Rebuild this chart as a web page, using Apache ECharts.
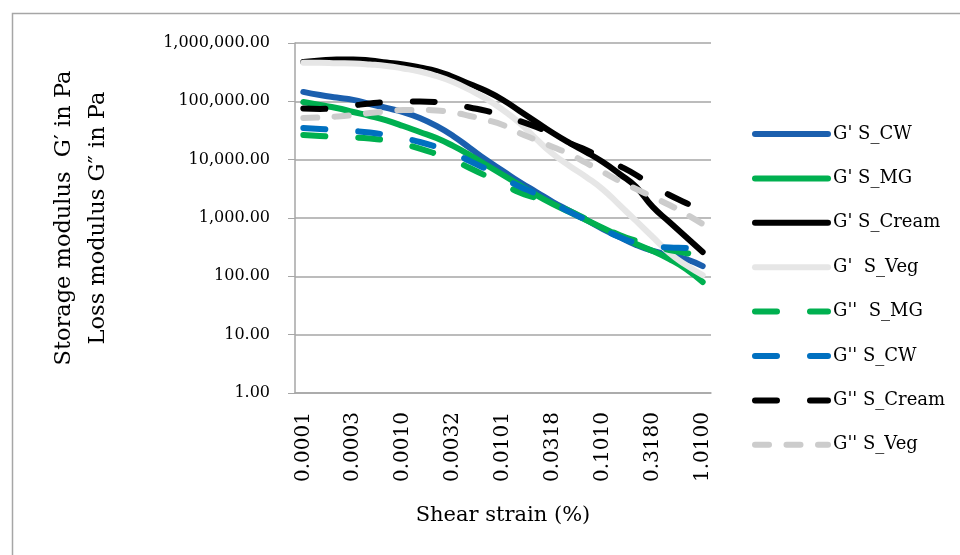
<!DOCTYPE html>
<html>
<head>
<meta charset="utf-8">
<script src="https://cdn.jsdelivr.net/npm/echarts@6/dist/echarts.min.js"></script>
<style>
html,body{margin:0;padding:0;background:#fff;}
#chart{width:960px;height:555px;}
</style>
</head>
<body>
<div id="chart"></div>
<script>
// shear strain (%) categories, only every third one gets a label
var strainLabels = ['0.0001','0.0001','0.0002','0.0003','0.0005','0.0007','0.0010','0.0015','0.0022',
    '0.0032','0.0047','0.0069','0.0101','0.0147','0.0215','0.0318','0.0464','0.0681','0.1010',
    '0.1470','0.2150','0.3180','0.4640','0.6810','1.0100'];

// storage modulus G' (Pa)
var gpCW    = [145000,128000,116000,106000,90000,77000,65600,51800,37800,25500,15900,9880,6400,4140,2790,1880,1320,925,648,472,345,272,232,198,150];
var gpMG    = [97300,86400,76900,65600,56100,47000,37800,29800,23500,17200,12000,8100,5460,3680,2480,1740,1270,925,675,492,358,272,198,134,80];
var gpCream = [473000,501000,521000,521000,501000,463000,428000,380000,331000,261000,198000,150000,105500,68400,44300,28600,19300,13500,9100,5680,3400,1550,855,472,261];
var gpVeg   = [460000,460000,450000,445000,428000,404000,366000,325000,272000,215000,157000,110000,71000,42600,22600,12500,7800,5050,3100,1670,890,472,251,156,105];

// loss modulus G'' (Pa)
var gppMG    = [26500,25500,24500,24000,23100,21300,18600,15500,12500,9900,7200,5250,3830,2740,2200,1740,1320,962,702,512,404,331,283,251,215];
var gppCW    = [34900,33600,32300,31000,29300,26500,23500,20100,16500,13000,9500,6900,4860,3470,2580,1810,1270,925,648,472,373,331,312,306,294];
var gppCream = [75400,74000,78500,84900,91900,97300,99300,99300,97300,89900,78500,68400,56100,46000,36300,27500,19300,14600,10700,7800,5460,3540,2480,1810,1320];
var gppVeg   = [51800,52900,55000,58300,63100,67000,71100,71100,69700,64400,56100,47900,39300,28600,21700,16500,12500,8800,6150,4310,3140,2290,1670,1170,789];

var fontFam = 'DejaVu Serif';
var gridColor = '#a6a6a6';
var longDash = [22, 33];
var shortDash = [14, 17.5];

function mkLine(name, data, color, dash){
    return {
        name: name,
        type: 'line',
        data: data,
        smooth: 0.5,
        symbol: 'none',
        lineStyle: {
            color: color,
            width: 6,
            type: dash || 'solid',
            cap: 'round',
            join: 'round'
        },
        itemStyle: {color: color},
        emphasis: {disabled: true},
        animation: false
    };
}

var myChart = echarts.init(document.getElementById('chart'));

var option = {
    backgroundColor: '#fff',
    animation: false,
    textStyle: {fontFamily: fontFam},
    graphic: [{
        type: 'rect',
        shape: {x: 12.5, y: 13.5, width: 1200, height: 1200},
        style: {fill: 'none', stroke: gridColor, lineWidth: 1.5},
        silent: true
    }],
    grid: {left: 295, right: 249, top: 43, bottom: 162},
    legend: {
        orient: 'vertical',
        left: 752,
        top: 124,
        padding: 0,
        itemWidth: 73,
        itemHeight: 20,
        itemGap: 24.4,
        selectedMode: false,
        itemStyle: {opacity: 0},
        lineStyle: {width: 6, cap: 'round'},
        textStyle: {fontFamily: fontFam, fontSize: 18, color: '#000', lineHeight: 20},
        data: ["G' S_CW", "G' S_MG", "G' S_Cream", "G'  S_Veg", "G''  S_MG", "G'' S_CW", "G'' S_Cream", "G'' S_Veg"]
    },
    xAxis: {
        type: 'category',
        data: strainLabels,
        boundaryGap: true,
        name: 'Shear strain (%)',
        nameLocation: 'middle',
        nameGap: 112,
        nameTextStyle: {fontFamily: fontFam, fontSize: 21, color: '#000'},
        axisLine: {lineStyle: {color: gridColor, width: 1.5}},
        axisTick: {interval: 0, length: 6, lineStyle: {color: gridColor}},
        axisLabel: {
            interval: 2,
            rotate: 90,
            margin: 19,
            fontFamily: fontFam,
            fontSize: 20,
            color: '#000'
        },
        splitLine: {show: false}
    },
    yAxis: {
        type: 'log',
        logBase: 10,
        min: 1,
        max: 1000000,
        name: 'Storage modulus  G\u2032 in Pa\nLoss modulus G\u2033 in Pa',
        nameLocation: 'middle',
        nameRotate: 90,
        nameGap: 180,
        nameTextStyle: {fontFamily: fontFam, fontSize: 22.5, color: '#000', lineHeight: 34},
        axisLine: {show: true, lineStyle: {color: gridColor, width: 1.5}},
        axisTick: {show: true, length: 7, lineStyle: {color: gridColor}},
        axisLabel: {
            margin: 25,
            fontFamily: fontFam,
            fontSize: 16,
            color: '#000',
            formatter: function(v){
                return Number(v).toLocaleString('en-US', {minimumFractionDigits: 2, maximumFractionDigits: 2});
            }
        },
        splitLine: {show: true, lineStyle: {color: gridColor, width: 1.5}}
    },
    series: [
        mkLine("G' S_CW", gpCW, '#1b5fae'),
        mkLine("G' S_MG", gpMG, '#00b050'),
        mkLine("G' S_Cream", gpCream, '#000000'),
        mkLine("G'  S_Veg", gpVeg, '#e6e6e6'),
        mkLine("G''  S_MG", gppMG, '#00b050', longDash),
        mkLine("G'' S_CW", gppCW, '#0070c0', longDash),
        mkLine("G'' S_Cream", gppCream, '#000000', longDash),
        mkLine("G'' S_Veg", gppVeg, '#cccccc', shortDash)
    ]
};
myChart.setOption(option);
</script>
</body>
</html>
